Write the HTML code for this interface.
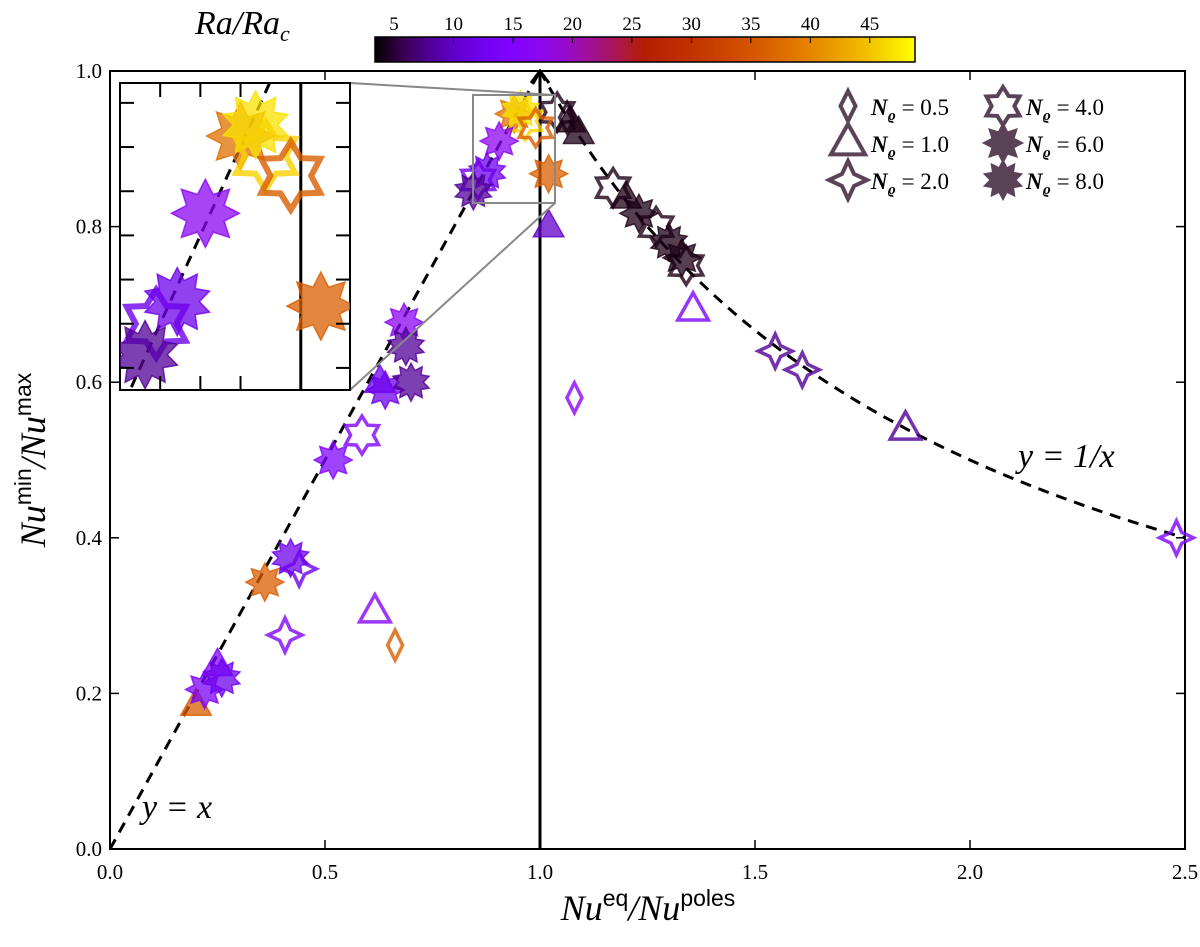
<!DOCTYPE html>
<html><head><meta charset="utf-8"><style>
body{margin:0;background:#fff}
svg{display:block;font-family:"Liberation Serif",serif}
</style></head><body>
<svg id="c" width="1200" height="947" viewBox="0 0 1200 947" xmlns="http://www.w3.org/2000/svg"></svg>
<script>
// data: marker type, x, y, Ra/Rac color value
const ptX=[1.063,1.07,1.09,1.04,1.17,1.20,1.23,1.27,1.30,1.33,1.34,1.356,1.547,1.61,1.85,2.48,1.08,1.02,
0.94,0.955,0.965,1.02,0.905,0.877,0.856,0.684,0.688,0.64,0.70,0.628,0.586,0.519,0.407,0.42,0.44,0.616,0.663,0.36,0.20,0.22,0.25,0.26,0.99,0.845];
const ptY=[0.94,0.935,0.92,0.947,0.85,0.837,0.817,0.80,0.78,0.76,0.75,0.693,0.64,0.616,0.54,0.40,0.58,0.80,
0.945,0.95,0.936,0.868,0.91,0.87,0.86,0.677,0.646,0.59,0.60,0.60,0.532,0.50,0.275,0.374,0.36,0.305,0.262,0.343,0.185,0.205,0.236,0.22,0.927,0.846];
const ptM=["d","t","t","s6","s6","t","s8","s6","s10","s8","s6","t","s4","s4","t","s4","d","t",
"s8","s10","s6","s8","s8","s10","s6","s8","s10","s8","s10","t","s6","s8","s4","s10","s4","t","d","s8","t","s8","t","s10","s6","s10"];
const ptF=[0,1,1,0,0,1,1,0,1,1,0,0,0,0,0,0,0,1,
1,1,0,1,1,1,0,1,1,1,1,1,0,1,0,1,0,0,0,1,1,1,1,1,0,1];
const ptC=[4,4,4,4,4,4,4,4,4,4,4,14,8,8,8,14,17,10,
38,47,46,36,17,12,12,17,8,12,8,12,15,15,15,12,12,16,36,36,36,14,15,12,36,8];
const cbTicks=[5,10,15,20,25,30,35,40,45];
const xTicks=[0,0.5,1.0,1.5,2.0,2.5];
const yTicks=[0,0.2,0.4,0.6,0.8,1.0];

const S=document.getElementById('c');const NS='http://www.w3.org/2000/svg';
function el(t,a,p){const e=document.createElementNS(NS,t);for(const k in a)e.setAttribute(k,a[k]);(p||S).appendChild(e);return e;}
const X0=110,X1=1185,Y0=849,Y1=71;
const sx=v=>X0+v/2.5*(X1-X0), sy=v=>Y0-v*(Y0-Y1);
function cmap(v){let t=Math.max(0,Math.min(1,(v-3.4)/(48.8-3.4)));const r=Math.sqrt(t),g=t*t*t,b=Math.max(0,Math.sin(2*Math.PI*t));return `rgb(${r*255|0},${g*255|0},${b*255|0})`;}
function shape(m,R){let n,ir;if(m==='d')return `M0,${-R}L${R*0.5},0L0,${R}L${-R*0.5},0Z`;
 if(m==='t')return `M0,${-R}L${R*0.9},${R*0.6}L${-R*0.9},${R*0.6}Z`;
 if(m==='s4'){n=4;ir=0.45}else if(m==='s6'){n=6;ir=0.6}else if(m==='s8'){n=8;ir=0.6}else{n=10;ir=0.65}
 let d='';for(let i=0;i<2*n;i++){const a=Math.PI*i/n-Math.PI/2,rr=i%2?R*ir:R;d+=(i?'L':'M')+(rr*Math.cos(a)).toFixed(1)+','+(rr*Math.sin(a)).toFixed(1);}return d+'Z';}
function drawPt(g,m,x,y,col,R,filled,sw){
 return el('path',{d:shape(m,R),transform:`translate(${x},${y})`,fill:filled?col:'none',stroke:col,'stroke-width':filled?1.5:sw,'fill-opacity':0.75,'stroke-opacity':0.8},g);}
function sizeOf(m){return m==='d'?15:(m==='t'?17:(m==='s4'?17:19));}

el('rect',{x:X0,y:Y1,width:X1-X0,height:Y0-Y1,fill:'none',stroke:'#000','stroke-width':2});
xTicks.forEach(v=>{const x=sx(v);el('line',{x1:x,x2:x,y1:Y0,y2:Y0-9,stroke:'#000','stroke-width':1.5});el('line',{x1:x,x2:x,y1:Y1,y2:Y1+9,stroke:'#000','stroke-width':1.5});
 const t=el('text',{x:x,y:Y0+30,'font-size':21,'text-anchor':'middle'});t.textContent=v.toFixed(1);
 });
yTicks.forEach(v=>{const y=sy(v);el('line',{x1:X0,x2:X0+9,y1:y,y2:y,stroke:'#000','stroke-width':1.5});el('line',{x1:X1,x2:X1-9,y1:y,y2:y,stroke:'#000','stroke-width':1.5});
 const t=el('text',{x:X0-8,y:y+7,'font-size':21,'text-anchor':'end'});t.textContent=v.toFixed(1);
 });
el('line',{x1:sx(0),y1:sy(0),x2:sx(1),y2:sy(1),stroke:'#000','stroke-width':3,'stroke-dasharray':'11,8'});
let d='';for(let i=0;i<=60;i++){const v=1+1.5*i/60;d+=(i?'L':'M')+sx(v)+','+sy(1/v);}
el('path',{d:d,fill:'none',stroke:'#000','stroke-width':3,'stroke-dasharray':'11,8'});
el('line',{x1:sx(1),x2:sx(1),y1:Y0,y2:Y1,stroke:'#000','stroke-width':3});
el('path',{d:`M${sx(1)-9},${Y1+12}L${sx(1)},${Y1}L${sx(1)+9},${Y1+12}`,fill:'none',stroke:'#000','stroke-width':3});
const gp=el('g',{});
for(let i=0;i<ptX.length;i++){
 const p=drawPt(gp,ptM[i],sx(ptX[i]),sy(ptY[i]),cmap(ptC[i]),sizeOf(ptM[i]),ptF[i],3.5);
 }
// inset
const IX0=120,IX1=350,IY0=83,IY1=390,dx0=0.82,dx1=1.049,dy0=0.969,dy1=0.830;
const ix=v=>IX0+(v-dx0)/(dx1-dx0)*(IX1-IX0), iy=v=>IY0+(dy0-v)/(dy0-dy1)*(IY1-IY0);
el('rect',{x:473,y:95,width:82,height:108,fill:'none',stroke:'#888','stroke-width':2});
el('line',{x1:IX1,y1:IY0,x2:555,y2:95,stroke:'#888','stroke-width':2});
el('line',{x1:IX1,y1:IY1,x2:555,y2:203,stroke:'#888','stroke-width':2});
el('rect',{x:IX0,y:IY0,width:IX1-IX0,height:IY1-IY0,fill:'#fff',stroke:'#000','stroke-width':2});
const defs=el('defs',{});const cp=el('clipPath',{id:'ic'},defs);el('rect',{x:IX0,y:IY0,width:IX1-IX0,height:IY1-IY0},cp);
const gi=el('g',{'clip-path':'url(#ic)'});
el('line',{x1:ix(0.8),y1:iy(0.8),x2:ix(1),y2:iy(1),stroke:'#000','stroke-width':3,'stroke-dasharray':'11,8'},gi);
el('line',{x1:ix(1),x2:ix(1),y1:IY0,y2:IY1,stroke:'#000','stroke-width':3},gi);
for(let i=0;i<ptX.length;i++){if(ptX[i]<dx0-0.05||ptX[i]>1.035||ptY[i]<dy1-0.05||ptY[i]>dy0+0.05)continue;
 const p=drawPt(gi,ptM[i],ix(ptX[i]),iy(ptY[i]),cmap(ptC[i]),ptM[i]==='d'?26:34,ptF[i],6);
 }
[0.86,0.9,0.94].forEach(v=>{el('line',{x1:ix(v),x2:ix(v),y1:IY0,y2:IY0+14,stroke:'#000','stroke-width':2},gi);el('line',{x1:ix(v),x2:ix(v),y1:IY1,y2:IY1-14,stroke:'#000','stroke-width':2},gi);});
[0.84,0.86,0.88,0.90,0.92,0.94,0.96].forEach(v=>{el('line',{x1:IX0,x2:IX0+14,y1:iy(v),y2:iy(v),stroke:'#000','stroke-width':2},gi);el('line',{x1:IX1,x2:IX1-14,y1:iy(v),y2:iy(v),stroke:'#000','stroke-width':2},gi);});
// colorbar
const CB0=375,CB1=915,vmin=3.4,vmax=48.8;
const lg=el('linearGradient',{id:'cg'},defs);
for(let i=0;i<=20;i++){el('stop',{offset:(i*5)+'%','stop-color':cmap(vmin+(vmax-vmin)*i/20)},lg);}
el('rect',{x:CB0,y:37,width:CB1-CB0,height:25,fill:'url(#cg)',stroke:'#000','stroke-width':1.5});
cbTicks.forEach(v=>{const x=CB0+(v-vmin)/(vmax-vmin)*(CB1-CB0);el('line',{x1:x,x2:x,y1:37,y2:43,stroke:'#000'});
 const t=el('text',{x:x,y:30,'font-size':19,'text-anchor':'middle'});t.textContent=v;});
let t=el('text',{x:195,y:34,'font-size':34,'font-style':'italic'});t.innerHTML='Ra/Ra<tspan font-size="22" dy="7">c</tspan>';
t=el('text',{x:648,y:920,'font-size':36,'text-anchor':'middle'});t.innerHTML='<tspan font-style="italic">Nu</tspan><tspan font-family="Liberation Sans" font-size="23" dy="-14">eq</tspan><tspan dy="14" font-style="italic">/Nu</tspan><tspan font-family="Liberation Sans" font-size="23" dy="-14">poles</tspan>';

t=el('text',{x:0,y:0,'font-size':36,'text-anchor':'middle',transform:'translate(45,460) rotate(-90)'});t.innerHTML='<tspan font-style="italic">Nu</tspan><tspan font-family="Liberation Sans" font-size="23" dy="-14">min</tspan><tspan dy="14" font-style="italic">/Nu</tspan><tspan font-family="Liberation Sans" font-size="23" dy="-14">max</tspan>';

t=el('text',{x:142,y:818,'font-size':34,'font-style':'italic'});t.textContent='y = x';
t=el('text',{x:1018,y:467,'font-size':34,'font-style':'italic'});t.textContent='y = 1/x';
// legend
const legM=['d','t','s4','s6','s8','s10'],legL=['0.5','1.0','2.0','4.0','6.0','8.0'];
for(let i=0;i<6;i++){const col=i<3?0:1,row=i%3;const mx=col?1003:848,my=106+row*37;
 const g=el('g',{});
 const m=legM[i];const h=(m==='d'||m==='t'||m==='s4'||m==='s6');
 el('path',{d:shape(m,m==='d'?15:19),transform:`translate(${mx},${my})`,fill:h?'none':'#5a4356',stroke:'#5a4356','stroke-width':h?4:2},g);
 const tx=el('text',{x:mx+23,y:my+9,'font-size':23},g);tx.innerHTML='<tspan font-style="italic" font-weight="bold">N</tspan><tspan font-size="15" dy="5" font-style="italic" font-weight="bold">ϱ</tspan><tspan dy="-5"> = '+legL[i]+'</tspan>';}
</script>
</body></html>
